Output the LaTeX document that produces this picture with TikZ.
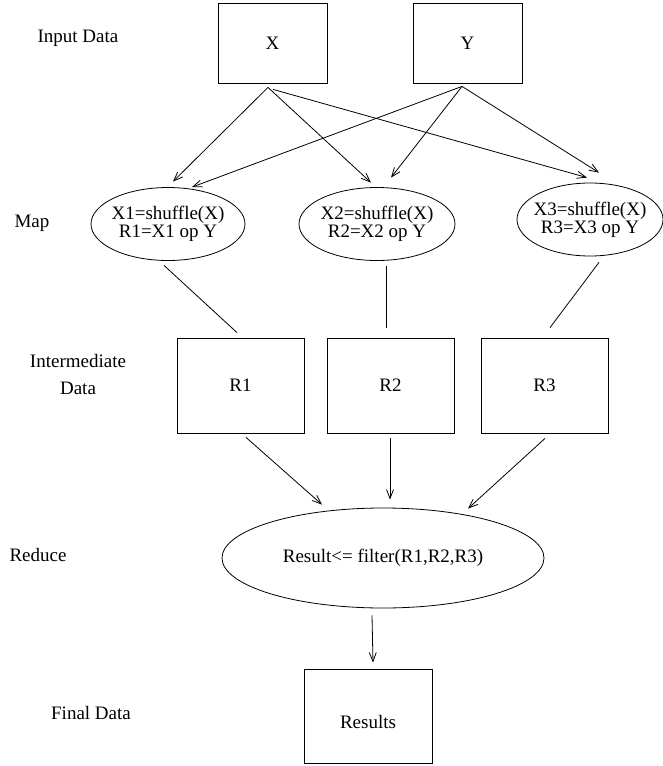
\documentclass[tikz,border=0pt]{standalone}
\usepackage{fontspec}
\setmainfont{Liberation Serif}
\usetikzlibrary{shapes.geometric}
\usetikzlibrary{arrows.meta}

\begin{document}
\begin{tikzpicture}[x=1pt,y=-1pt,line width=0.8pt,font=\fontsize{19}{18}\selectfont]
    \useasboundingbox (0,0) rectangle (663,766);
    %Stage labels
    \begin{scope}[every node/.style={align=center}]
        \node(lin) at (78,38) {Input Data};
        \node(lmap) at (32,223) {Map};
        \node(linter) at (78,374) {Intermediate\\[9pt]Data};
        \node(lred) at (38,555) {Reduce};
        \node(lfin) at (91,713) {Final Data};
    \end{scope}
    %Data boxes
    \begin{scope}[every node/.style={draw,inner sep=0pt}]
        \node(ex)[minimum width=109pt,minimum height=80pt] at (272.5,43) {X};
        \node(ey)[minimum width=109pt,minimum height=80pt] at (467.5,43) {Y};
        \node(r1)[minimum width=127pt,minimum height=95pt] at (240.5,385.5) {R1};
        \node(r2)[minimum width=127pt,minimum height=95pt] at (390.5,385.5) {R2};
        \node(r3)[minimum width=127pt,minimum height=95pt] at (544.5,385.5) {R3};
        \node(res)[minimum width=128pt,minimum height=94pt,text height=25pt,text depth=0pt] at (368,716) {Results};
    \end{scope}
    %Map and reduce steps
    \begin{scope}[every node/.style={draw,ellipse,inner sep=-8pt,align=center}]
        \node(m1)[minimum width=154pt,minimum height=73pt] at (168,224) {X1=shuffle(X)\\R1=X1 op Y};
        \node(m2)[minimum width=156pt,minimum height=73pt] at (377,224) {X2=shuffle(X)\\R2=X2 op Y};
        \node(m3)[minimum width=146pt,minimum height=73pt] at (590,219.5) {X3=shuffle(X)\\R3=X3 op Y};
        \node(red)[minimum width=322pt,minimum height=100pt] at (383,558) {Result<= filter(R1,R2,R3)};
    \end{scope}
    %Lines
    \begin{scope}[>={Straight Barb[length=9pt,width=7pt]}]
        \draw[->] ([xshift=-4.5pt,yshift=-4pt]ex.south) -- ([xshift=5pt,yshift=5.5pt]m1.north);
        \draw[->] ([xshift=-4.5pt,yshift=-4pt]ex.south) -- ([xshift=-6pt,yshift=4.5pt]m2.north);
        \draw[->] ([xshift=0.5pt,yshift=-6pt]ex.south) -- ([xshift=-3pt,yshift=5pt]m3.north);
        \draw[->] ([xshift=-5.5pt,yshift=-3pt]ey.south) -- ([xshift=24pt]m1.north);
        \draw[->] ([xshift=-5.5pt,yshift=-3pt]ey.south) -- ([xshift=14pt,yshift=9.5pt]m2.north);
        \draw[->] ([xshift=-5.5pt,yshift=-3pt]ey.south) -- ([xshift=9pt,yshift=10pt]m3.north);
        \draw ([xshift=-4pt,yshift=-4.5pt]m1.south) -- ([xshift=-3.5pt,yshift=5pt]r1.north);
        \draw ([xshift=9pt,yshift=-5.5pt]m2.south) -- ([xshift=-4.5pt,yshift=10pt]r2.north);
        \draw ([xshift=9pt,yshift=-6pt]m3.south) -- ([xshift=5.5pt,yshift=10pt]r3.north);
        \draw[->] ([xshift=5.5pt,yshift=-4pt]r1.south) -- ([xshift=-61pt,yshift=3pt]red.north);
        \draw[->] ([xshift=-0.5pt,yshift=-5pt]r2.south) -- ([xshift=7pt,yshift=8pt]red.north);
        \draw[->] ([xshift=0.5pt,yshift=-5pt]r3.south) -- ([xshift=85pt,yshift=-1pt]red.north);
        \draw[->] ([xshift=-11pt,yshift=-7pt]red.south) -- ([xshift=5pt,yshift=6pt]res.north);
    \end{scope}
\end{tikzpicture}
\end{document}
